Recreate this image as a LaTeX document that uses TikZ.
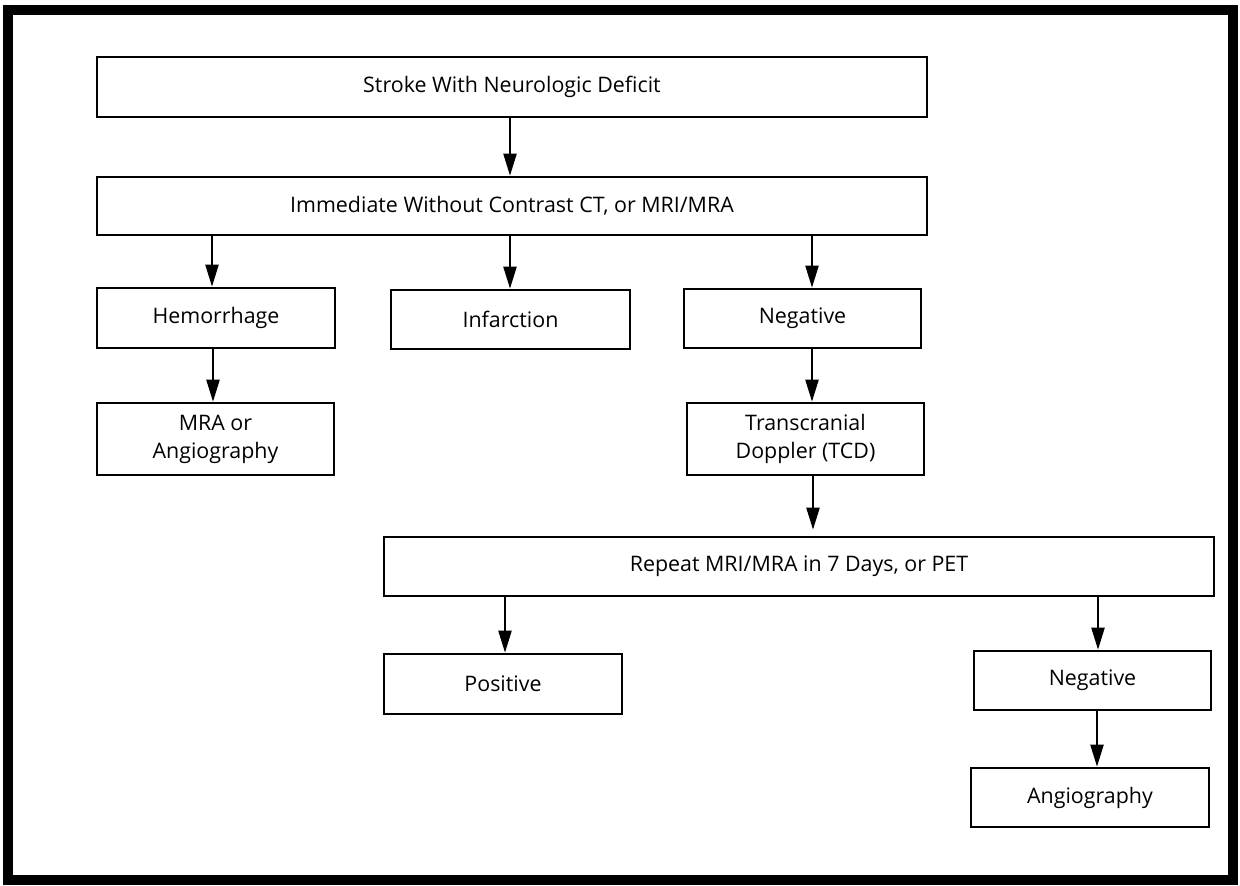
\documentclass[tikz,border=0pt]{standalone}
\usepackage{fontspec}
\setmainfont{Open Sans}
\usetikzlibrary{arrows.meta,calc}
\begin{document}
\begin{tikzpicture}[x=1pt,y=-1pt,
  box/.style={draw=black,line width=2.6pt,fill=white,inner sep=2pt,align=center,
    font=\fontsize{21.4}{28}\selectfont},
  arr/.style={draw=black,line width=2.2pt,-{Triangle[length=22pt,width=13pt]}}]
\useasboundingbox (0,0) rectangle (1240,886);
\draw[line width=10pt] (8,10) rectangle (1233,880);
% nodes
\node[box,minimum width=830pt,minimum height=60pt] (b1) at (512,87) {Stroke With Neurologic Deficit};
\node[box,minimum width=830pt,minimum height=58pt] (b2) at (512,206) {Immediate Without Contrast CT, or MRI/MRA};
\node[box,minimum width=238pt,minimum height=60pt] (hem) at (216,318) {Hemorrhage};
\node[box,minimum width=239pt,minimum height=59pt] (inf) at (510.5,319.5) {Infarction};
\node[box,minimum width=237pt,minimum height=59pt] (neg1) at (802.5,318.5) {Negative};
\node[box,minimum width=237pt,minimum height=72pt] (mra) at (215.5,439) {MRA or\\Angiography};
\node[box,minimum width=237pt,minimum height=72pt] (tcd) at (805.5,439) {Transcranial\\Doppler (TCD)};
\node[box,minimum width=830pt,minimum height=59pt] (rep) at (799,566.5) {Repeat MRI/MRA in 7 Days, or PET};
\node[box,minimum width=238pt,minimum height=60pt] (pos) at (503,684) {Positive};
\node[box,minimum width=237pt,minimum height=59pt] (neg2) at (1092.5,680.5) {Negative};
\node[box,minimum width=238pt,minimum height=59pt] (ang) at (1090,797.5) {Angiography};
% arrows
\draw[arr] (b1.south -| 510,0) -- (b2.north -| 510,0);
\draw[arr] (b2.south -| 212,0) -- (hem.north -| 212,0);
\draw[arr] (b2.south -| 510,0) -- (inf.north -| 510,0);
\draw[arr] (b2.south -| 812,0) -- (neg1.north -| 812,0);
\draw[arr] (hem.south -| 213,0) -- (mra.north -| 213,0);
\draw[arr] (neg1.south -| 812,0) -- (tcd.north -| 812,0);
\draw[arr] (tcd.south -| 813,0) -- ($(rep.north -| 813,0)+(0,-6)$);
\draw[arr] (rep.south -| 505,0) -- (pos.north -| 505,0);
\draw[arr] (rep.south -| 1098,0) -- (neg2.north -| 1098,0);
\draw[arr] (neg2.south -| 1097,0) -- (ang.north -| 1097,0);
\end{tikzpicture}
\end{document}
